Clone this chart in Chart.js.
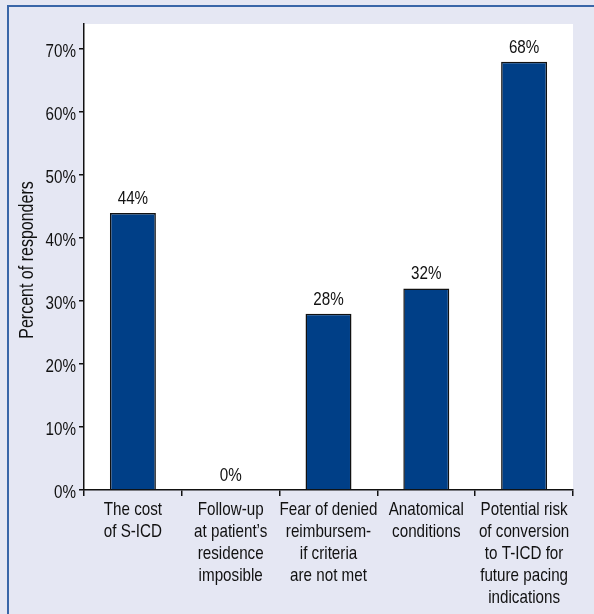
<!DOCTYPE html>
<html>
<head>
<meta charset="utf-8">
<script src="https://cdn.jsdelivr.net/npm/chart.js@4.4.0/dist/chart.umd.min.js"></script>
<style>
  html, body { margin: 0; padding: 0; background: #E5E7F3; }
  #wrap { position: relative; width: 594px; height: 614px; }
  #frame { position: absolute; left: 7px; top: 5px; right: 0; bottom: 0;
           border-top: 2px solid #3A66A8; border-left: 2px solid #3A66A8; pointer-events: none; }
  canvas { position: absolute; left: 0; top: 0; }
</style>
</head>
<body>
<div id="wrap">
  <canvas id="chart" width="594" height="614"></canvas>
  <div id="frame"></div>
</div>
<script>
const categories = [
  ['The cost', 'of S-ICD'],
  ['Follow-up', 'at patient\u2019s', 'residence', 'imposible'],
  ['Fear of denied', 'reimbursem-', 'if criteria', 'are not met'],
  ['Anatomical', 'conditions'],
  ['Potential risk', 'of conversion', 'to T-ICD for', 'future pacing', 'indications']
];
const percentValues = [44, 0, 28, 32, 68];
const yTickValues = [0, 10, 20, 30, 40, 50, 60, 70];
const yTitle = 'Percent of responders';

// reference uses a narrow sans; squeeze Liberation Sans horizontally to get close
const FONT = '19px "Liberation Sans", Arial, sans-serif';
const TITLE_FONT = '20px "Liberation Sans", Arial, sans-serif';
const SQUEEZE = 0.8;
const INK = '#111';

function narrowText(ctx, text, x, y, align, baseline, rot, font) {
  ctx.save();
  ctx.translate(x, y);
  if (rot) ctx.rotate(rot);
  ctx.scale(SQUEEZE, 1);
  ctx.font = font || FONT;
  ctx.fillStyle = INK;
  ctx.textAlign = align;
  ctx.textBaseline = baseline;
  ctx.fillText(text, 0, 0);
  ctx.restore();
}

// white plot background
const plotBg = {
  id: 'plotBg',
  beforeDraw(chart) {
    const { ctx, chartArea: a } = chart;
    ctx.save();
    ctx.fillStyle = '#ffffff';
    ctx.fillRect(a.left, a.top, a.right - a.left, a.bottom - a.top);
    ctx.restore();
  }
};

// tick labels, axis title and value labels in the narrow face
const narrowLabels = {
  id: 'narrowLabels',
  afterDraw(chart) {
    const { ctx, chartArea: a } = chart;
    const xs = chart.scales.x, ys = chart.scales.y;

    yTickValues.forEach(v => {
      narrowText(ctx, v + '%', ys.right - 8, ys.getPixelForValue(v) + 3, 'right', 'middle');
    });

    categories.forEach((lines, i) => {
      const cx = xs.getPixelForValue(i);
      lines.forEach((ln, k) => {
        narrowText(ctx, ln, cx, a.bottom + 25 + k * 22, 'center', 'alphabetic');
      });
    });

    narrowText(ctx, yTitle, 27, (a.top + a.bottom) / 2 + 3, 'center', 'middle', -Math.PI / 2, TITLE_FONT);

    const meta = chart.getDatasetMeta(0);
    meta.data.forEach((bar, i) => {
      narrowText(ctx, percentValues[i] + '%', bar.x, bar.y - 9, 'center', 'alphabetic');
    });
  }
};

new Chart(document.getElementById('chart'), {
  type: 'bar',
  data: {
    labels: categories,
    datasets: [{
      data: percentValues,
      backgroundColor: '#003F87',
      borderColor: INK,
      borderWidth: 1.5,
      borderSkipped: 'bottom',
      categoryPercentage: 1,
      barPercentage: 0.47
    }]
  },
  options: {
    responsive: false,
    animation: false,
    layout: { padding: { top: 24, right: 21, left: 0, bottom: 0 } },
    scales: {
      x: {
        afterFit(axis) { axis.height = 124; },
        border: { display: true, color: INK, width: 1.5 },
        grid: { display: true, drawOnChartArea: false, drawTicks: true, tickLength: 6, color: INK, lineWidth: 1.5, offset: true },
        ticks: { display: false }
      },
      y: {
        min: 0,
        max: 74,
        afterFit(axis) { axis.width = 84; },
        afterBuildTicks(axis) { axis.ticks = yTickValues.map(v => ({ value: v })); },
        border: { display: true, color: INK, width: 1.5 },
        grid: { display: true, drawOnChartArea: false, drawTicks: true, tickLength: 5, color: INK, lineWidth: 1.5 },
        ticks: { display: false }
      }
    },
    plugins: {
      legend: { display: false },
      tooltip: { enabled: false }
    }
  },
  plugins: [plotBg, narrowLabels]
});
</script>
</body>
</html>
